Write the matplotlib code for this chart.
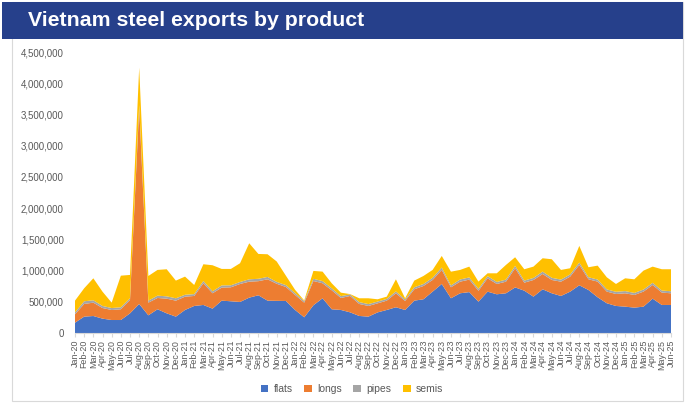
import matplotlib
matplotlib.use("Agg")
import matplotlib.pyplot as plt
from matplotlib.patches import Rectangle
from matplotlib.ticker import FuncFormatter, MultipleLocator

# months Jan-20 .. Jun-25
months = ["Jan", "Feb", "Mar", "Apr", "May", "Jun",
          "Jul", "Aug", "Sep", "Oct", "Nov", "Dec"]
labels = [f"{m}-{y}" for y in range(20, 26) for m in months][:66]

# tonnes
flats = [165, 262, 272, 230, 208, 208, 315, 465, 283, 380, 315, 262,
         369, 433, 449, 390, 518, 508, 497, 566, 604, 518, 515, 513,
         369, 251, 444, 556, 380, 369, 331, 273, 262, 330, 369, 412,
         369, 518, 540, 662, 785, 556, 636, 655, 502, 662, 620, 636,
         730, 678, 582, 700, 636, 593, 662, 764, 689, 572, 476, 433,
         422, 406, 422, 550, 449, 449]
longs = [135, 203, 214, 170, 160, 172, 214, 3135, 203, 181, 235, 256,
         213, 160, 347, 246, 209, 224, 288, 256, 226, 342, 273, 224,
         240, 235, 389, 240, 304, 192, 262, 192, 171, 145, 149, 224,
         144, 182, 213, 187, 225, 176, 186, 200, 174, 214, 165, 186,
         307, 128, 267, 245, 213, 229, 241, 326, 171, 251, 187, 192,
         214, 203, 241, 219, 198, 187]
pipes = [30, 43, 38, 33, 32, 32, 27, 50, 32, 37, 37, 38,
         30, 30, 37, 32, 35, 32, 32, 38, 38, 38, 30, 30,
         30, 25, 35, 35, 32, 30, 25, 30, 30, 28, 28, 30,
         25, 32, 32, 35, 38, 30, 35, 35, 30, 35, 32, 33,
         38, 33, 33, 38, 35, 33, 35, 38, 33, 33, 35, 35,
         35, 33, 33, 35, 33, 33]
semis = [188, 208, 352, 229, 86, 506, 374, 600, 395, 412, 434, 283,
         291, 146, 268, 417, 264, 262, 300, 577, 398, 363, 327, 151,
         53, 10, 126, 152, 80, 55, 5, 61, 93, 37, 36, 194,
         18, 107, 128, 126, 186, 220, 153, 173, 117, 45, 139, 235,
         138, 182, 181, 214, 297, 155, 99, 267, 160, 223, 194, 125,
         205, 218, 303, 259, 341, 352]

series = ["flats", "longs", "pipes", "semis"]
colors = ["#4472C4", "#ED7D31", "#A5A5A5", "#FFC000"]
fonts = ["Liberation Sans", "DejaVu Sans"]

W, H = 685, 403
fig = plt.figure(figsize=(W / 100, H / 100), dpi=100)

# outer chart border and title bar
fig.patches.append(Rectangle((12 / W, 2 / H), 671 / W, 399 / H, transform=fig.transFigure,
                             facecolor="none", edgecolor="#D9D9D9", lw=0.8))
fig.patches.append(Rectangle((2 / W, 1 - 39 / H), 681 / W, 37 / H, transform=fig.transFigure,
                             facecolor="#26408B", edgecolor="none"))
fig.text(28 / W, 1 - 21 / H, "Vietnam steel exports by product", color="white",
         fontsize=15.3, fontweight="bold", family=fonts, va="center", ha="left")

ax = fig.add_axes([75 / W, (H - 333) / H, (671 - 75) / W, (333 - 52) / H])
x = list(range(len(labels)))
data = [[v * 1000 for v in s] for s in (flats, longs, pipes, semis)]
ax.stackplot(x, *data, colors=colors, labels=series, lw=0)

ax.set_xlim(0, len(labels) - 1)
ax.set_ylim(0, 4500000)
ax.yaxis.set_major_locator(MultipleLocator(500000))
ax.yaxis.set_major_formatter(FuncFormatter(lambda v, p: f"{v:,.0f}"))
ax.set_xticks(x)
ax.set_xticklabels(labels, rotation=90)

for s in ["top", "right", "left"]:
    ax.spines[s].set_visible(False)
ax.spines["bottom"].set_color("#D9D9D9")
ax.tick_params(axis="y", length=0, pad=8, labelsize=7, labelcolor="#595959")
ax.tick_params(axis="x", length=3, color="#D9D9D9", pad=2, labelsize=6.4, labelcolor="#595959")
for t in ax.get_xticklabels() + ax.get_yticklabels():
    t.set_family(fonts)

handles, lbls = ax.get_legend_handles_labels()
leg = fig.legend(handles, lbls, loc="center", bbox_to_anchor=(352 / W, 1 - 389 / H), ncol=4,
                 frameon=False, handlelength=0.75, handleheight=0.75, handletextpad=0.5,
                 columnspacing=1.1, prop={"family": fonts, "size": 7.5})
for t in leg.get_texts():
    t.set_color("#595959")

fig.savefig("out.png", dpi=100)
